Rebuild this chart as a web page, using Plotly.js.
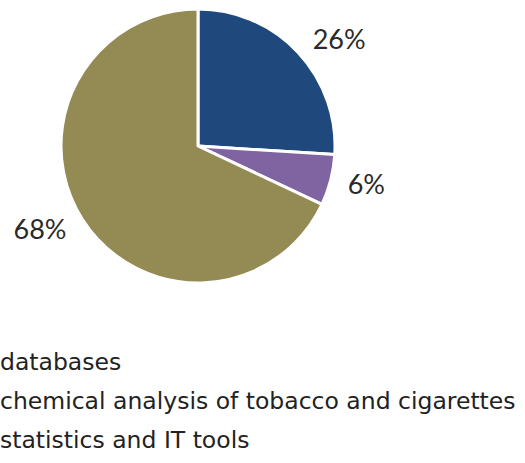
<!DOCTYPE html>
<html>
<head>
<meta charset="utf-8">
<script src="https://cdn.plot.ly/plotly-3.0.1.min.js"></script>
<style>html,body{margin:0;padding:0;background:#fff;}#chart{width:525px;height:463px;}</style>
</head>
<body>
<div id="chart"></div>
<script>
var categories = ["databases", "chemical analysis of tobacco and cigarettes", "statistics and IT tools"];
var shares = [26, 6, 68];
var colors = ["#1f497d", "#8064a2", "#948a54"];

var legendY = [0.218, 0.134, 0.050];

var pieTrace = {
  type: "pie",
  labels: categories,
  values: shares,
  sort: false,
  direction: "clockwise",
  rotation: 0,
  marker: {colors: colors, line: {color: "#ffffff", width: 3}},
  textinfo: "none",
  hoverinfo: "label+percent",
  showlegend: false,
  domain: {x: [0.1162, 0.6381], y: [0.3888, 0.9806]}
};

// invisible, slightly larger copy that carries the outside percentage labels
var labelTrace = {
  type: "pie",
  labels: categories,
  values: shares,
  sort: false,
  direction: "clockwise",
  rotation: 0,
  marker: {colors: ["rgba(0,0,0,0)", "rgba(0,0,0,0)", "rgba(0,0,0,0)"], line: {width: 0}},
  textposition: "outside",
  texttemplate: "%{percent:.0%}",
  textfont: {family: "Lato, sans-serif", size: 27, color: "#2a2a2a"},
  hoverinfo: "skip",
  showlegend: false,
  domain: {x: [0.0990, 0.6552], y: [0.3693, 1.0]}
};

var annotations = categories.map(function (c, i) {
  return {
    text: c, xref: "paper", yref: "paper", x: 0, y: legendY[i], xshift: -2,
    xanchor: "left", yanchor: "middle", showarrow: false,
    font: {family: "DejaVu Sans, Verdana, sans-serif", size: 23.5, color: "#222222"}
  };
});

var layout = {
  width: 525, height: 463,
  margin: {l: 0, r: 0, t: 0, b: 0},
  paper_bgcolor: "#ffffff",
  showlegend: false,
  annotations: annotations
};

Plotly.newPlot("chart", [pieTrace, labelTrace], layout, {displayModeBar: false, staticPlot: true});
</script>
</body>
</html>
